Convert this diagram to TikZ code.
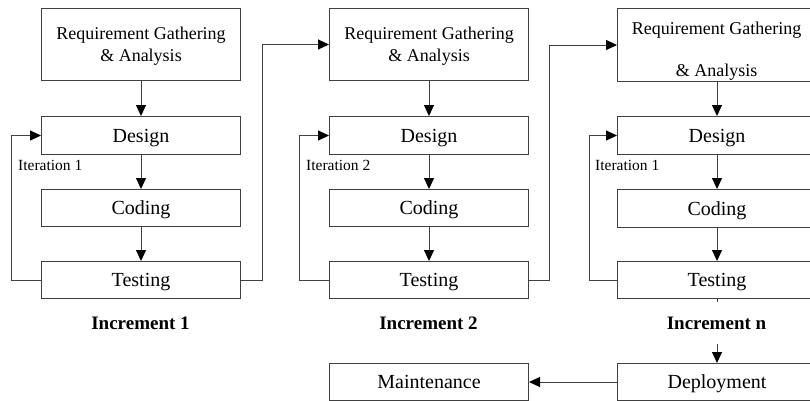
\documentclass[tikz,border=0pt]{standalone}
\usepackage{fontspec}
\setmainfont{Liberation Serif}
\usetikzlibrary{arrows.meta}
\begin{document}
\begin{tikzpicture}[x=1pt,y=-1pt,
  box/.style={draw=black!75, line width=1pt, minimum width=199pt, inner sep=0pt,
              anchor=north west, text depth=0pt, font=\fontsize{20}{24}\selectfont},
  reqtext/.style={align=center, font=\fontsize{18}{22}\selectfont},
  arr/.style={draw=black!75, line width=1pt, -{Triangle[length=11pt,width=10pt,color=black]}},
  iter/.style={anchor=west, inner sep=0pt, font=\fontsize{15.5}{18}\selectfont},
  incr/.style={font=\fontsize{19}{22}\selectfont\bfseries, inner sep=0pt}]
\useasboundingbox (0,0) rectangle (810,400);
\clip (0,0) rectangle (810,400);
\fill[white] (0,0) rectangle (810,400);
% column 1
\node[box, minimum height=72pt, reqtext] (R1) at (41,8) {Requirement Gathering\\\& Analysis};
\node[box, minimum height=38pt] (D1) at (41,116) {Design};
\node[box, minimum height=37pt] (C1) at (41,189) {Coding};
\node[box, minimum height=37pt] (T1) at (41,261) {Testing};
% column 2
\node[box, minimum height=72pt, reqtext] (R2) at (329,8) {Requirement Gathering\\\& Analysis};
\node[box, minimum height=38pt] (D2) at (329,116) {Design};
\node[box, minimum height=37pt] (C2) at (329,189) {Coding};
\node[box, minimum height=37pt] (T2) at (329,261) {Testing};
% column 3
\node[box, minimum height=73pt] (R3) at (617,8) {};
\begin{scope}
  \clip (R3.north west) rectangle (R3.south east);
  \node[align=center, font=\fontsize{18}{42}\selectfont] (R3t) at (716.5,51) {Requirement Gathering\\\& Analysis};
\end{scope}
\node[box, minimum height=38pt] (D3) at (617,116) {Design};
\node[box, minimum height=38pt] (C3) at (617,189) {Coding};
\node[box, minimum height=37pt] (T3) at (617,261) {Testing};
% bottom row
\node[box, minimum height=37pt] (M) at (329,363) {Maintenance};
\node[box, minimum height=37pt] (Dep) at (617,363) {Deployment};
% vertical arrows
\draw[arr] (R1.south) -- (D1.north);
\draw[arr] (D1.south) -- (C1.north);
\draw[arr] (C1.south) -- (T1.north);
\draw[arr] (R2.south) -- (D2.north);
\draw[arr] (D2.south) -- (C2.north);
\draw[arr] (C2.south) -- (T2.north);
\draw[arr] (R3.south) -- (D3.north);
\draw[arr] (D3.south) -- (C3.north);
\draw[arr] (C3.south) -- (T3.north);
% iteration loops
\draw[arr] (T1.west) -- ++(-30,0) |- (D1.west);
\draw[arr] (T2.west) -- ++(-30,0) |- (D2.west);
\draw[arr] (T3.west) -- ++(-28,0) |- (D3.west);
\node[iter] (I1) at (18,165) {Iteration 1};
\node[iter] (I2) at (306,165) {Iteration 2};
\node[iter] (I3) at (595,165) {Iteration 1};
% increments
\draw[arr] (T1.east) -- ++(21,0) |- (R2.west);
\draw[arr] (T2.east) -- ++(20,0) |- (R3.west);
% to deployment
\draw[arr] (T3.south) -- (Dep.north);
\draw[arr] (Dep.west) -- (M.east);
\node[incr] (N1) at (140.5,323) {Increment 1};
\node[incr] (N2) at (428.5,323) {Increment 2};
\node[incr, fill=white, minimum height=42pt, inner xsep=3pt] (N3) at (716.5,323) {Increment n};
\end{tikzpicture}
\end{document}
